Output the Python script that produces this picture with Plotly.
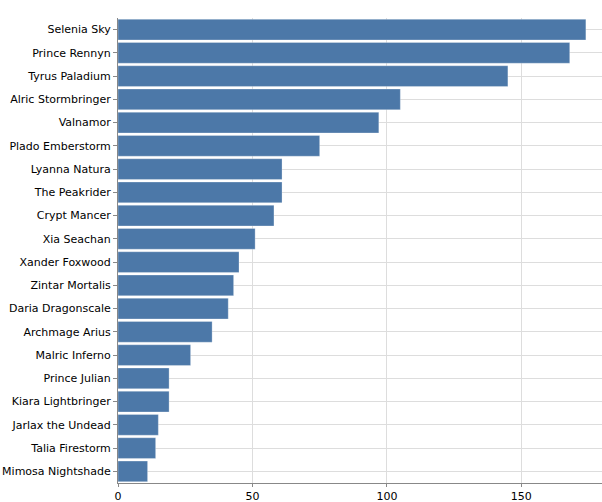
import plotly.graph_objects as go

names = ["Selenia Sky", "Prince Rennyn", "Tyrus Paladium", "Alric Stormbringer", "Valnamor",
         "Plado Emberstorm", "Lyanna Natura", "The Peakrider", "Crypt Mancer", "Xia Seachan",
         "Xander Foxwood", "Zintar Mortalis", "Daria Dragonscale", "Archmage Arius", "Malric Inferno",
         "Prince Julian", "Kiara Lightbringer", "Jarlax the Undead", "Talia Firestorm", "Mimosa Nightshade"]
values = [174, 168, 145, 105, 97, 75, 61, 61, 58, 51, 45, 43, 41, 35, 27, 19, 19, 15, 14, 11]
x_ticks = [0, 50, 100, 150]

fig = go.Figure(go.Bar(
    x=values, y=names, orientation="h",
    marker=dict(color="#4c78a8", line=dict(color="rgba(255,255,255,0.35)", width=0.8)),
))

fig.update_layout(
    width=602, height=502,
    margin=dict(l=118, r=0, t=18, b=19, autoexpand=False),
    plot_bgcolor="white", paper_bgcolor="white",
    bargap=0.11,
    showlegend=False,
    font=dict(family="DejaVu Sans", size=11, color="#000"),
)
fig.update_xaxes(
    range=[0, 180], tickvals=x_ticks, showgrid=True, gridcolor="#ddd", gridwidth=1,
    showline=True, linecolor="#888", linewidth=1, ticks="outside", ticklen=3, tickcolor="#888",
    zeroline=False, tickfont=dict(size=11, color="#000"),
)
fig.update_yaxes(
    categoryorder="array", categoryarray=names, autorange="reversed",
    showgrid=True, gridcolor="#ddd", gridwidth=1,
    showline=True, linecolor="#888", linewidth=1, ticks="outside", ticklen=4, tickcolor="#888",
    tickfont=dict(size=11, color="#000"),
)

fig.write_html("out.html", config={"displayModeBar": False},
               post_script="document.body.style.margin='0px';")
